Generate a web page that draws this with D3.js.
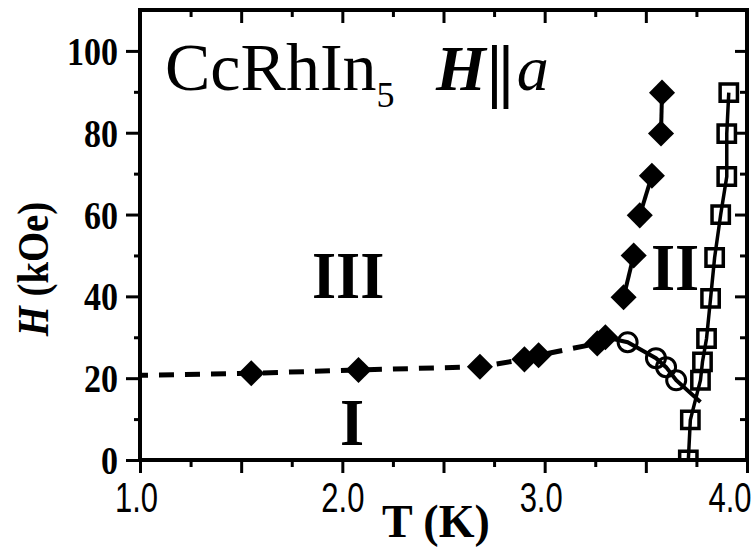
<!DOCTYPE html>
<html>
<head>
<meta charset="utf-8">
<script src="https://cdn.jsdelivr.net/npm/d3@7"></script>
<style>
  html, body { margin: 0; padding: 0; background: #fff; }
  svg { display: block; }
</style>
</head>
<body>
<svg id="chart" width="755" height="549"></svg>
<script>
// ---- data: CeRhIn5 H-T phase diagram, field along a ----
// filled diamonds on the low-field boundary (I / III)
const lowT = [1.55, 2.08, 2.68, 2.90, 2.97, 3.26, 3.30];
const lowH = [21.2, 22.0, 22.8, 24.6, 25.6, 28.5, 30.0];
// filled diamonds on the III / II boundary
const highT = [3.39, 3.44, 3.47, 3.53, 3.575, 3.58];
const highH = [39.8, 50.0, 59.8, 69.5, 79.8, 89.8];
// open circles on the I / II boundary
const circT = [3.41, 3.55, 3.60, 3.65];
const circH = [28.8, 24.9, 22.7, 19.5];
// open squares: Neel temperature
const sqT = [3.71, 3.72, 3.77, 3.78, 3.80, 3.82, 3.84, 3.87, 3.90, 3.90, 3.91];
const sqH = [0.0, 9.8, 19.5, 24.0, 29.7, 39.5, 49.5, 60.0, 69.3, 79.8, 89.8];
// guide lines
const dashT = [1.00, 1.55, 2.08, 2.68, 2.90, 2.97, 3.26];
const dashH = [20.7, 21.2, 22.0, 22.8, 24.6, 25.6, 28.5];
const solidT = [3.30, 3.41, 3.55, 3.60, 3.65, 3.77];
const solidH = [30.0, 28.8, 24.9, 22.7, 19.5, 14.2];
// ticks
const xMajor = [1, 1.5, 2, 2.5, 3, 3.5, 4];
const xMinor = [1.25, 1.75, 2.25, 2.75, 3.25, 3.75];
const xLabels = ["1.0", "2.0", "3.0", "4.0"];
const yMajor = [0, 20, 40, 60, 80, 100];
const yMinor = [10, 30, 50, 70, 90];
const yLabels = ["0", "20", "40", "60", "80", "100"];

const zip = (a, b) => a.map((v, i) => [v, b[i]]);

const svg = d3.select("#chart");
const x = d3.scaleLinear([1, 4], [140, 747]);
const y = d3.scaleLinear([0, 110], [460, 10]);
const X0 = x.range()[0], X1 = x.range()[1], Y0 = y.range()[0], Y1 = y.range()[1];

const serif = "'Liberation Serif', 'Times New Roman', serif";
const sans = "'Liberation Sans', Arial, sans-serif";

svg.append("defs").append("clipPath").attr("id", "plotClip")
  .append("rect").attr("x", X0).attr("y", Y1).attr("width", X1 - X0).attr("height", Y0 - Y1);

// ---- axes ----
function styleAxis(g) {
  g.select(".domain").remove();
  g.selectAll(".tick line").attr("stroke", "#000").attr("stroke-width", 3);
}
const xl = (d) => { const i = [1, 2, 3, 4].indexOf(d); return i >= 0 ? xLabels[i] : ""; };

const bottom = svg.append("g").attr("transform", `translate(0,${Y0})`)
  .call(d3.axisBottom(x).tickValues(xMajor).tickSize(13).tickFormat(xl)).call(styleAxis);
bottom.selectAll("text")
  .attr("font-family", sans).attr("font-size", 31).attr("fill", "#000")
  .attr("y", 38).attr("dy", 0)
  .attr("transform", "scale(1,1.36)")
  .attr("text-anchor", d => d === 4 ? "end" : "middle")
  .attr("dx", d => d === 4 ? 4 : (d === 2 ? 0 : -4));
svg.append("g").attr("transform", `translate(0,${Y0})`)
  .call(d3.axisBottom(x).tickValues(xMinor).tickSize(7).tickFormat("")).call(styleAxis);

svg.append("g").attr("transform", `translate(0,${Y1})`)
  .call(d3.axisTop(x).tickValues(xMajor).tickSize(-13).tickFormat("")).call(styleAxis);
svg.append("g").attr("transform", `translate(0,${Y1})`)
  .call(d3.axisTop(x).tickValues(xMinor).tickSize(-7).tickFormat("")).call(styleAxis);

const left = svg.append("g").attr("transform", `translate(${X0},0)`)
  .call(d3.axisLeft(y).tickValues(yMajor).tickSize(14).tickPadding(8)
    .tickFormat(d => yLabels[yMajor.indexOf(d)])).call(styleAxis);
left.selectAll("text")
  .attr("font-family", serif).attr("font-weight", "bold").attr("font-size", 34)
  .attr("fill", "#000").attr("dy", "0.33em").attr("transform", "scale(1,1.2)");
svg.append("g").attr("transform", `translate(${X0},0)`)
  .call(d3.axisLeft(y).tickValues(yMinor).tickSize(6).tickFormat("")).call(styleAxis);

svg.append("g").attr("transform", `translate(${X1},0)`)
  .call(d3.axisRight(y).tickValues(yMajor).tickSize(-12).tickFormat("")).call(styleAxis);
svg.append("g").attr("transform", `translate(${X1},0)`)
  .call(d3.axisRight(y).tickValues(yMinor).tickSize(-7).tickFormat("")).call(styleAxis);

// ---- guide lines ----
const line = d3.line().x(d => x(d[0])).y(d => y(d[1]));
const plot = svg.append("g").attr("clip-path", "url(#plotClip)");

plot.append("path").datum(zip(dashT, dashH)).attr("d", line)
  .attr("fill", "none").attr("stroke", "#000").attr("stroke-width", 5)
  .attr("stroke-dasharray", "15,11").attr("stroke-dashoffset", 7);
plot.append("path").datum(zip(solidT, solidH)).attr("d", line)
  .attr("fill", "none").attr("stroke", "#000").attr("stroke-width", 4);

// high-field diamonds are joined in consecutive pairs
const highPts = zip(highT, highH);
d3.range(0, highPts.length - 1, 2).forEach(i => {
  plot.append("path").datum([highPts[i], highPts[i + 1]]).attr("d", line)
    .attr("fill", "none").attr("stroke", "#000").attr("stroke-width", 4);
});
plot.append("path").datum(zip(sqT, sqH)).attr("d", line)
  .attr("fill", "none").attr("stroke", "#000").attr("stroke-width", 3.5);

// ---- markers ----
const diamond = d3.symbol(d3.symbolSquare, 340)();
plot.selectAll(".dia").data(zip(lowT, lowH).concat(highPts)).join("path")
  .attr("class", "dia").attr("d", diamond)
  .attr("transform", d => `translate(${x(d[0])},${y(d[1])}) rotate(45)`)
  .attr("fill", "#000");

plot.selectAll(".circ").data(zip(circT, circH)).join("circle")
  .attr("class", "circ").attr("cx", d => x(d[0])).attr("cy", d => y(d[1]))
  .attr("r", 9.5).attr("fill", "none").attr("stroke", "#000").attr("stroke-width", 3);

const square = d3.symbol(d3.symbolSquare, 300)();
plot.selectAll(".sq").data(zip(sqT, sqH)).join("path")
  .attr("class", "sq").attr("d", square)
  .attr("transform", d => `translate(${x(d[0])},${y(d[1])})`)
  .attr("fill", "none").attr("stroke", "#000").attr("stroke-width", 3.5);

// ---- frame ----
svg.append("rect").attr("x", X0).attr("y", Y1).attr("width", X1 - X0).attr("height", Y0 - Y1)
  .attr("fill", "none").attr("stroke", "#000").attr("stroke-width", 4);

// ---- labels ----
const title = svg.append("text").attr("x", 165).attr("y", 90)
  .attr("font-family", serif).attr("font-size", 68).attr("fill", "#000");
title.append("tspan").text("CcRhIn");
title.append("tspan").attr("font-size", 36).attr("dy", 17).text("5");

const field = svg.append("text").attr("x", 436).attr("y", 90)
  .attr("font-family", serif).attr("font-size", 64).attr("fill", "#000");
field.append("tspan").attr("font-style", "italic").attr("font-weight", "bold").text("H");
field.append("tspan").attr("font-weight", "bold").attr("font-size", 70)
  .attr("letter-spacing", -4).attr("dx", 1).attr("dy", 4).text("||");
field.append("tspan").attr("font-style", "italic").attr("dx", 7).attr("dy", -4).text("a");

const roman = [["III", 312, 298], ["II", 651, 290], ["I", 340, 445]];
svg.selectAll(".roman").data(roman).join("text")
  .attr("class", "roman")
  .attr("transform", d => `translate(${d[1]},${d[2]}) scale(1,1.1)`)
  .attr("font-family", serif).attr("font-weight", "bold").attr("font-size", 62)
  .attr("fill", "#000").text(d => d[0]);

svg.append("text").attr("x", 382).attr("y", 537)
  .attr("font-family", serif).attr("font-weight", "bold").attr("font-size", 46)
  .attr("fill", "#000").text("T (K)");

const yt = svg.append("text").attr("transform", "translate(48,269) rotate(-90) scale(0.86,1)")
  .attr("text-anchor", "middle")
  .attr("font-family", serif).attr("font-weight", "bold").attr("font-size", 45).attr("fill", "#000");
yt.append("tspan").attr("font-style", "italic").text("H");
yt.append("tspan").text(" (kOe)");
</script>
</body>
</html>
